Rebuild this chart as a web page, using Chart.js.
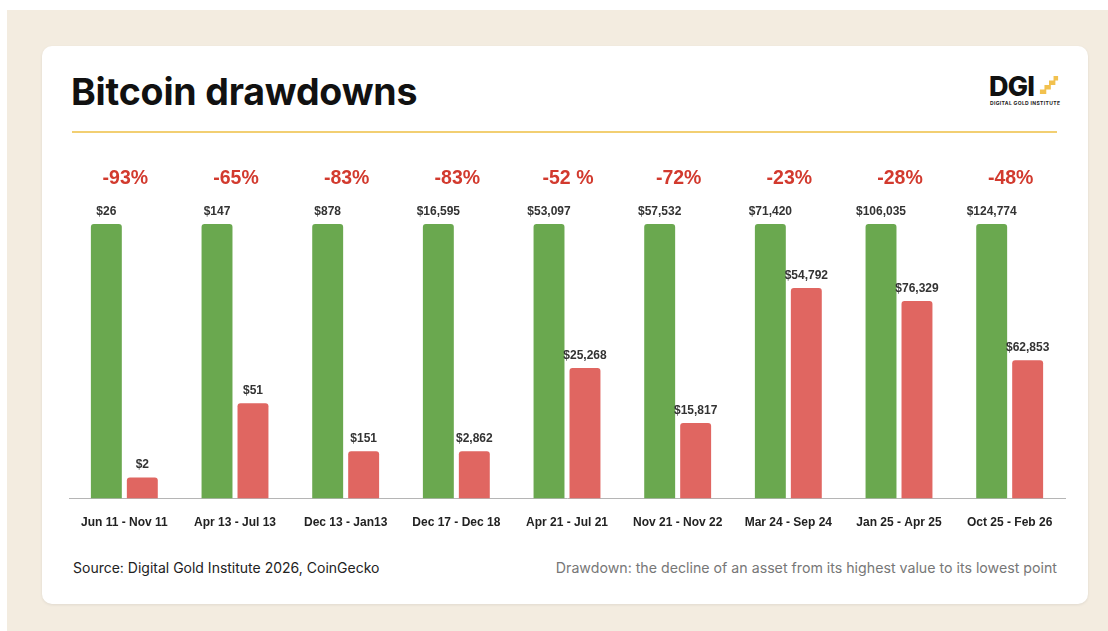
<!DOCTYPE html>
<html>
<head>
<meta charset="utf-8">
<script src="https://cdn.jsdelivr.net/npm/chart.js@4/dist/chart.umd.min.js"></script>
<style>
    html, body { margin: 0; padding: 0; background: #fff; }
    body { width: 1108px; height: 631px; position: relative; overflow: hidden; font-family: Inter, "Liberation Sans", Arial, sans-serif; }
    .bg { position: absolute; left: 7px; top: 10px; right: 0; bottom: 0; background: #f3ece0; }
    .card { position: absolute; left: 42px; top: 46px; width: 1046px; height: 558px; background: #fff; border-radius: 10px; box-shadow: 0 1px 3px rgba(0,0,0,0.08); }
    .title { position: absolute; left: 29px; top: 23px; font-size: 37.5px; font-weight: 700; color: #111; letter-spacing: -0.2px; }
    .rule { position: absolute; left: 30px; top: 85px; width: 985px; height: 2px; background: #f2cf72; }
    .logo { position: absolute; left: 947px; top: 24px; width: 72px; height: 36px; }
    .logo .dgi { position: absolute; left: 0; top: 0; font-size: 27px; font-weight: 800; color: #111; letter-spacing: -0.8px; }
    .logo .sub { position: absolute; left: 1px; top: 30px; font-size: 5px; font-weight: 700; color: #222; letter-spacing: 0.35px; white-space: nowrap; }
    .logo svg { position: absolute; left: 50px; top: 4px; }
    .source { position: absolute; left: 31px; top: 513px; font-size: 14px; color: #222; }
    .note { position: absolute; right: 31px; top: 513px; font-size: 14.2px; color: #777; }
    #chartBox { position: absolute; left: 0; top: 95px; width: 1046px; height: 409px; }
</style>
</head>
<body>
<div class="bg"></div>
<div class="card">
    <div class="title">Bitcoin drawdowns</div>
    <div class="logo">
        <div class="dgi">DGI</div>
        <svg width="20" height="22" viewBox="0 0 22 22">
            <path d="M1 21 L1 16 L6 16 L6 11 L11 11 L11 6 L16 6 L16 1 L21 1 L21 6 L18 6 L18 11 L13 11 L13 16 L8 16 L8 21 Z" fill="#f2c14e"/>
        </svg>
        <div class="sub">DIGITAL GOLD INSTITUTE</div>
    </div>
    <div class="rule"></div>
    <div id="chartBox"><canvas id="ddChart"></canvas></div>
    <div class="source">Source: Digital Gold Institute 2026, CoinGecko</div>
    <div class="note">Drawdown: the decline of an asset from its highest value to its lowest point</div>
</div>

<script>
// 구간 라벨
const periods = ['Jun 11 - Nov 11', 'Apr 13 - Jul 13', 'Dec 13 - Jan13', 'Dec 17 - Dec 18', 'Apr 21 - Jul 21',
    'Nov 21 - Nov 22', 'Mar 24 - Sep 24', 'Jan 25 - Apr 25', 'Oct 25 - Feb 26'];
// 고점 / 저점 가격 (USD)
const peakPrices = [26, 147, 878, 16595, 53097, 57532, 71420, 106035, 124774];
const lowPrices = [2, 51, 151, 2862, 25268, 15817, 54792, 76329, 62853];
// 하락률 라벨
const drawdownLabels = ['-93%', '-65%', '-83%', '-83%', '-52 %', '-72%', '-23%', '-28%', '-48%'];

// 고점 = 100, 저점 = 고점 대비 비율
const peakHeights = peakPrices.map(() => 100);
const lowHeights = lowPrices.map((v, i) => v / peakPrices[i] * 100);

const money = v => '$' + v.toLocaleString('en-US');

// 막대 위 값 + 하락률 표시
const labelPlugin = {
    id: 'barLabels',
    afterDatasetsDraw(chart) {
        const ctx = chart.ctx;
        const greenBars = chart.getDatasetMeta(0).data;
        const redBars = chart.getDatasetMeta(1).data;
        ctx.save();
        ctx.textAlign = 'center';
        ctx.textBaseline = 'alphabetic';
        ctx.font = 'bold 12px "Liberation Sans", Arial, sans-serif';
        ctx.fillStyle = '#333';
        greenBars.forEach((bar, i) => {
            ctx.fillText(money(peakPrices[i]), bar.x, bar.y - 9);
        });
        redBars.forEach((bar, i) => {
            ctx.fillText(money(lowPrices[i]), bar.x, bar.y - 9);
        });
        ctx.font = 'bold 19.5px "Liberation Sans", Arial, sans-serif';
        ctx.fillStyle = '#d23a2e';
        greenBars.forEach((bar, i) => {
            const cx = (bar.x + redBars[i].x) / 2 + 1;
            ctx.fillText(drawdownLabels[i], cx, bar.y - 40);
        });
        ctx.restore();
    }
};

new Chart(document.getElementById('ddChart'), {
    type: 'bar',
    data: {
        labels: periods,
        datasets: [{
            data: peakHeights,
            backgroundColor: '#6aa84f',
            borderRadius: 3,
            borderSkipped: 'bottom'
        }, {
            data: lowHeights,
            backgroundColor: '#e06661',
            borderRadius: 3,
            borderSkipped: 'bottom'
        }]
    },
    options: {
        responsive: true,
        maintainAspectRatio: false,
        animation: false,
        datasets: {
            bar: { categoryPercentage: 0.65, barPercentage: 0.86 }
        },
        layout: { padding: { top: 83, left: 27, right: 23, bottom: 3 } },
        plugins: {
            legend: { display: false },
            tooltip: { enabled: false }
        },
        scales: {
            x: {
                grid: { display: false, drawTicks: false },
                border: { display: true, color: '#b5b5b5', width: 1 },
                ticks: {
                    color: '#222',
                    padding: 17,
                    font: { family: '"Liberation Sans", Arial, sans-serif', size: 12, weight: 'bold' },
                    maxRotation: 0,
                    autoSkip: false
                }
            },
            y: {
                display: false,
                min: 0,
                max: 100
            }
        }
    },
    plugins: [labelPlugin]
});
</script>
</body>
</html>
